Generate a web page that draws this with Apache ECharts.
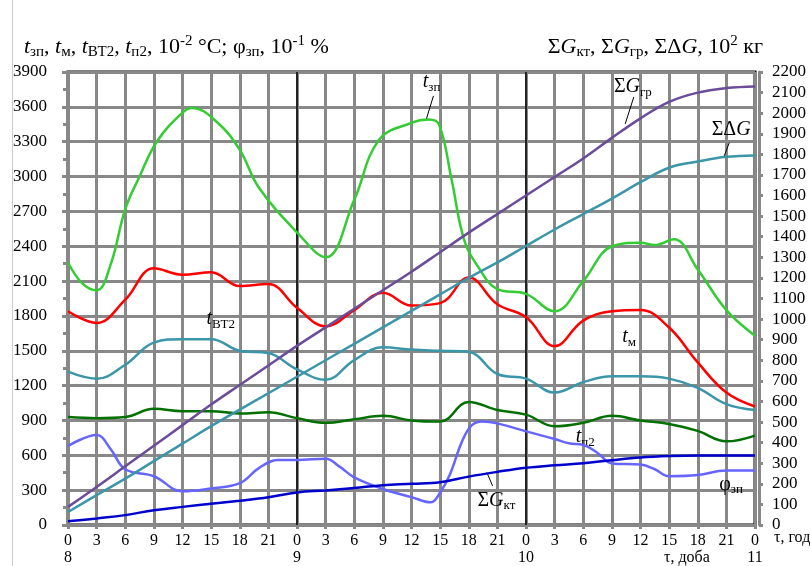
<!DOCTYPE html>
<html><head><meta charset="utf-8">
<script src="https://cdn.jsdelivr.net/npm/echarts@6/dist/echarts.min.js"></script>
<style>html,body{margin:0;padding:0;background:#fff}#c{width:810px;height:566px}</style>
</head><body><div id="c"></div>
<script>
// time, hours from start of day 8
const hours = [0,3,6,9,12,15,18,21,24,27,30,33,36,39,42,45,48,51,54,57,60,63,66,69,72];
const dayLabels = ['8','9','10','11'];
// left axis: 10^-2 °C ; 10^-1 %
const tZpHours = [0,1.5,3,4.5,6,7.5,9.3,12,13,15.6,18,20,24,27,30,32.6,36,37.8,38.9,40.2,41.5,43,45,48,51,54,57,60,61.5,63.5,66,69,72];
const tZp = [2260,2080,2020,2250,2720,3000,3300,3550,3590,3470,3230,2905,2520,2305,2800,3317,3462,3490,3445,2974,2460,2220,2030,1990,1840,2100,2400,2430,2410,2460,2200,1850,1630];
const tM = [1840,1740,1940,2210,2155,2175,2057,2074,1870,1710,1850,2000,1890,1910,2130,1900,1790,1540,1760,1840,1850,1700,1400,1140,1020];
const tBT2 = [1320,1260,1380,1570,1600,1600,1500,1480,1340,1250,1420,1530,1510,1500,1490,1300,1260,1140,1230,1280,1280,1260,1180,1040,990];
const tP2 = [930,920,930,1000,980,980,960,970,920,880,910,940,900,890,1060,990,950,850,880,940,900,870,810,720,770];
const phiHours = [0,3,4.5,6,9,12,15,18,20,22,24,27,28.5,30,33,36,38,39,40,41.3,42.3,43.4,45,48,51,52.5,54,55.5,57,60,61.5,63,66,69,72];
const phiZp = [680,775,650,480,420,290,315,360,490,560,560,570,500,410,310,240,195,280,430,720,857,891,875,806,740,703,690,620,530,520,480,420,430,470,470];
// right axis: 10^2 kg
const gKt = [18,32,48,72,88,103,118,135,158,168,180,193,200,208,235,258,278,290,300,315,328,335,338,338,338];
const gGr = [88,185,285,385,485,585,680,775,870,960,1050,1140,1230,1325,1420,1510,1600,1690,1780,1880,1975,2055,2100,2122,2130];
const gDG = [63,145,225,310,395,480,560,640,720,800,880,960,1040,1120,1200,1275,1355,1435,1510,1585,1665,1735,1765,1788,1795];

const F = 'Liberation Serif';
const pair = (xs, ys) => xs.map((x, i) => [x, ys[i]]);
function mkRich(big, small) {
  return {
    i: {fontFamily: F, fontStyle: 'italic', fontSize: big, lineHeight: big + 4, color: '#000'},
    n: {fontFamily: F, fontSize: big, lineHeight: big + 4, color: '#000'},
    s: {fontFamily: F, fontSize: small, lineHeight: small, verticalAlign: 'bottom', color: '#000'},
    u: {fontFamily: F, fontSize: small, lineHeight: small + 2, verticalAlign: 'top', color: '#000'}
  };
}
const rich = mkRich(20, 13);
const titleRich = mkRich(22, 15);
function lbl(coord, text) {
  return {coord: coord, symbol: 'circle', symbolSize: 0.1, itemStyle: {color: 'transparent'},
    label: {show: true, position: 'inside', formatter: text, rich: rich}};
}
function lead(a, b) { return [{coord: a}, {coord: b}]; }
const leadStyle = {symbol: 'none', silent: true, label: {show: false}, lineStyle: {color: '#000', width: 1, type: 'solid'}};

function line(name, xs, ys, color, yIdx, extra) {
  return Object.assign({
    name: name, type: 'line', yAxisIndex: yIdx, data: pair(xs, ys), smooth: 0.4,
    showSymbol: false, symbol: 'none', lineStyle: {color: color, width: 2.5}, itemStyle: {color: color}, z: 5
  }, extra || {});
}

const chart = echarts.init(document.getElementById('c'));
chart.setOption({
  animation: false,
  grid: {left: 68, right: 55, top: 72, bottom: 39, show: true, borderColor: '#000', borderWidth: 3},
  xAxis: {
    type: 'value', min: 0, max: 72, interval: 3,
    axisLine: {show: true, onZero: false, lineStyle: {color: '#888', width: 3}},
    axisTick: {show: true, length: 4, lineStyle: {color: '#888', width: 3}},
    splitLine: {show: true, lineStyle: {color: '#888', width: 3}},
    axisLabel: {
      fontFamily: F, fontSize: 16, color: '#000', margin: 7, lineHeight: 17,
      formatter: v => { const h = v % 24; return h === 0 ? (h + '\n' + dayLabels[v / 24]) : String(h); }
    }
  },
  yAxis: [{
    type: 'value', min: 0, max: 3900, interval: 300, position: 'left',
    axisLine: {show: true, lineStyle: {color: '#888', width: 4}},
    axisTick: {show: true, length: 6, lineStyle: {color: '#888', width: 3}},
    minorTick: {show: true, splitNumber: 2, length: 5, lineStyle: {color: '#888', width: 3}},
    splitLine: {show: true, lineStyle: {color: '#888', width: 3}},
    axisLabel: {fontFamily: F, fontSize: 17, color: '#000', margin: 21, formatter: v => String(v)}
  }, {
    type: 'value', min: 0, max: 2200, interval: 100, position: 'right', offset: 4,
    axisLine: {show: true, lineStyle: {color: '#888', width: 3}},
    axisTick: {show: true, length: 4, lineStyle: {color: '#888', width: 3}},
    splitLine: {show: false},
    axisLabel: {fontFamily: F, fontSize: 17, color: '#000', margin: 13, formatter: v => String(v)}
  }],
  series: [
    line('tzp', tZpHours, tZp, '#33cc33', 0, {
      markLine: Object.assign({}, leadStyle, {data: [lead([38.3, 3694], [37.5, 3480])]}),
      markPoint: {data: [lbl([38.1, 3814], '{i|t}{s|зп}')]}
    }),
    line('tm', hours, tM, '#ff0000', 0, {
      markPoint: {data: [lbl([58.8, 1620], '{i|t}{s|м}')]}
    }),
    line('tbt2', hours, tBT2, '#3a96a8', 0, {
      markPoint: {data: [lbl([16, 1774], '{i|t}{s|ВТ2}')]}
    }),
    line('tp2', hours, tP2, '#007000', 0, {
      markPoint: {data: [lbl([54.2, 760], '{i|t}{s|п2}')]}
    }),
    line('phi', phiHours, phiZp, '#6666ff', 0, {
      markPoint: {data: [lbl([69.5, 350], '{n|φ}{s|зп}')]}
    }),
    line('gkt', hours, gKt, '#0000cc', 1, {
      markLine: Object.assign({}, leadStyle, {data: [lead([43.9, 255], [44.5, 190])]}),
      markPoint: {data: [lbl([44.9, 120], '{n|Σ}{i|G}{s|кт}')]}
    }),
    line('ggr', hours, gGr, '#6b4c9a', 1, {
      markLine: Object.assign({}, leadStyle, {data: [lead([59.3, 2079], [58.4, 1948])]}),
      markPoint: {data: [lbl([59.2, 2127], '{n|Σ}{i|G}{s|гр}')]}
    }),
    line('gdg', hours, gDG, '#3a96a8', 1, {
      markLine: Object.assign({}, leadStyle, {data: [lead([69.3, 1857], [68.75, 1789])]}),
      markPoint: {data: [lbl([69.5, 1919], '{n|ΣΔ}{i|G}')]}
    }),
    {
      type: 'line', yAxisIndex: 0, data: [], silent: true,
      markLine: {symbol: 'none', silent: true, label: {show: false}, lineStyle: {color: '#000', width: 1.5, type: 'solid'},
        data: [{xAxis: 24}, {xAxis: 48}]}, z: 3
    }
  ],
  graphic: [
    {type: 'line', shape: {x1: 12.5, y1: 0, x2: 12.5, y2: 566}, style: {stroke: '#ccc', lineWidth: 1}},
    {type: 'text', left: 24, top: 34, style: {
      text: '{i|t}{s|зп}{n|, }{i|t}{s|м}{n|, }{i|t}{s|ВТ2}{n|, }{i|t}{s|п2}{n|, 10}{u|-2}{n| °C; φ}{s|зп}{n|, 10}{u|-1}{n| %}',
      rich: titleRich}},
    {type: 'text', right: 47, top: 34, style: {
      text: '{n|Σ}{i|G}{s|кт}{n|, Σ}{i|G}{s|гр}{n|, ΣΔ}{i|G}{n|, 10}{u|2}{n| кг}', rich: titleRich}},
    {type: 'text', left: 774, top: 530, style: {text: 'τ, год', font: '16px "Liberation Serif"', fill: '#000'}},
    {type: 'text', left: 664, top: 550, style: {text: 'τ, доба', font: '16px "Liberation Serif"', fill: '#000'}}
  ]
});
</script></body></html>
